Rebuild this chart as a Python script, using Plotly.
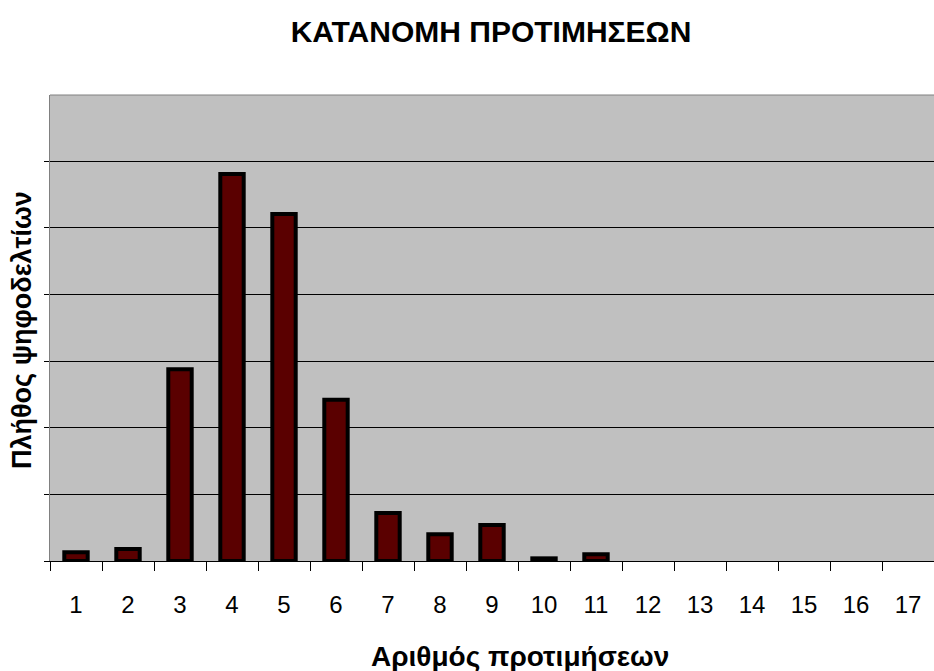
import plotly.graph_objects as go

categories = [str(i) for i in range(1, 18)]
counts = [13, 18, 288, 581, 521, 242, 72, 40, 54, 4, 10, None, None, None, None, None, None]

title_text = "ΚΑΤΑΝΟΜΗ ΠΡΟΤΙΜΗΣΕΩΝ"
x_title = "Αριθμός προτιμήσεων"
y_title = "Πλήθος ψηφοδελτίων"

W, H = 934, 671
L, R, T, B = 50, 0, 95, 110
PW, PH = W - L - R, H - T - B

fig = go.Figure()
fig.add_trace(go.Bar(
    x=categories, y=counts,
    width=0.45,
    marker=dict(color="#5a0000", line=dict(color="black", width=4)),
))

fig.update_layout(
    width=W, height=H,
    margin=dict(l=L, r=R, t=T, b=B),
    paper_bgcolor="white", plot_bgcolor="#C0C0C0",
    showlegend=False,
    font=dict(family="Liberation Sans, Arial, sans-serif", color="black"),
    title=dict(text="<b>" + title_text + "</b>", x=491 / W, xanchor="center",
               y=1 - 31 / H, yanchor="middle",
               font=dict(size=30, family="Liberation Sans, Arial, sans-serif")),
)
fig.update_xaxes(
    type="category", range=[-0.5, 16.5],
    showline=True, linecolor="black", linewidth=1,
    ticks="outside", tickson="boundaries", ticklen=9, tickcolor="black", tickwidth=1,
    tickfont=dict(size=24), ticklabelstandoff=22, showgrid=False,
)
fig.update_yaxes(
    range=[0, 699.5], dtick=100, showticklabels=False,
    showgrid=True, gridcolor="black", gridwidth=1,
    showline=True, linecolor="#808080", linewidth=1,
    ticks="outside", ticklen=5, tickcolor="black",
    zeroline=False,
)
fig.add_shape(type="line", xref="paper", yref="paper", x0=0, x1=1, y0=1, y1=1,
              line=dict(color="#808080", width=1))
fig.add_annotation(text="<b>" + x_title + "</b>", xref="paper", yref="paper",
                   x=(520 - L) / PW, y=-(656 - (H - B)) / PH, xanchor="center", yanchor="middle",
                   showarrow=False, font=dict(size=28))
fig.add_annotation(text="<b>" + y_title + "</b>", xref="paper", yref="paper",
                   x=(22 - L) / PW, y=1 - (330 - T) / PH, xanchor="center", yanchor="middle",
                   textangle=-90, showarrow=False, font=dict(size=27))

fig.write_html("out.html", config={"displayModeBar": False},
               post_script="document.body.style.margin='0px';")
